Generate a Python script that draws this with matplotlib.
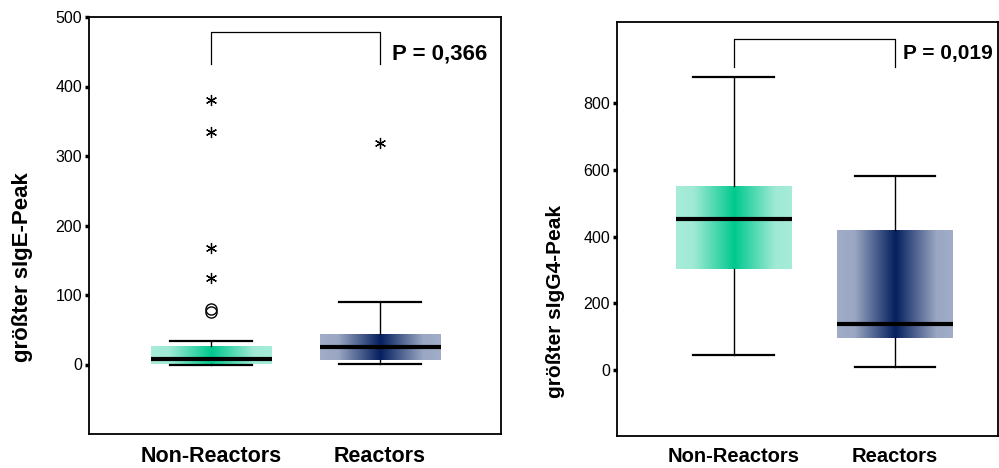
import numpy as np
import matplotlib.pyplot as plt
from matplotlib.colors import LinearSegmentedColormap

plt.rcParams['font.family'] = ['Liberation Sans', 'DejaVu Sans']

groups = ['Non-Reactors', 'Reactors']

# sIgE panel (left)
ige_q1 = [0.5, 6]
ige_med = [8, 24.5]
ige_q3 = [27, 44]
ige_whislo = [0, 0.5]
ige_whishi = [34.5, 90]
ige_circles = [[80, 75], []]
ige_stars = [[381, 335, 167, 124], [318]]
ige_p = 'P = 0,366'

# sIgG4 panel (right)
igg4_q1 = [304, 97]
igg4_med = [454, 137]
igg4_q3 = [552, 420]
igg4_whislo = [46, 9]
igg4_whishi = [878, 583]
igg4_p = 'P = 0,019'

green_cmap = LinearSegmentedColormap.from_list(
    'g', [(0, '#a6ecd9'), (0.15, '#a0ead5'), (0.5, '#00c98f'), (0.85, '#a0ead5'), (1, '#a6ecd9')])
navy_cmap = LinearSegmentedColormap.from_list(
    'n', [(0, '#a2adc8'), (0.15, '#9aa6c2'), (0.5, '#05205f'), (0.85, '#9aa6c2'), (1, '#a2adc8')])


def draw_panel(ax, q1, med, q3, lo, hi, ylabel, ylim, yticks, xlim, width, capw,
               bracket, ptext, ptext_xy, fs, circles=None, stars=None):
    stats = []
    for i in range(2):
        stats.append({'q1': q1[i], 'med': med[i], 'q3': q3[i],
                      'whislo': lo[i], 'whishi': hi[i], 'fliers': []})
    bp = ax.bxp(stats, positions=[1, 2], widths=width, patch_artist=True,
                showfliers=False, capwidths=capw,
                boxprops=dict(facecolor='none', edgecolor='none', linewidth=0),
                medianprops=dict(color='black', linewidth=3, solid_capstyle='butt'),
                whiskerprops=dict(color='black', linewidth=1),
                capprops=dict(color='black', linewidth=1.6))
    grad = np.linspace(0, 1, 256).reshape(1, -1)
    for patch, cmap in zip(bp['boxes'], [green_cmap, navy_cmap]):
        verts = patch.get_path().vertices
        x0, x1 = verts[:, 0].min(), verts[:, 0].max()
        y0, y1 = verts[:, 1].min(), verts[:, 1].max()
        im = ax.imshow(grad, cmap=cmap, extent=[x0, x1, y0, y1], aspect='auto',
                       zorder=1.5, interpolation='bilinear')
        im.set_clip_path(patch)
    for m in bp['medians']:
        m.set_zorder(3)

    if circles is not None:
        for i, vals in enumerate(circles):
            if vals:
                ax.plot([i + 1] * len(vals), vals, linestyle='none', marker='o',
                        markersize=8, markerfacecolor='none', markeredgecolor='black',
                        markeredgewidth=1)
    if stars is not None:
        for i, vals in enumerate(stars):
            if vals:
                ax.plot([i + 1] * len(vals), vals, linestyle='none', marker=(6, 2, 0),
                        markersize=8, markeredgecolor='black', markeredgewidth=0.9)

    # significance bracket
    yb_lo, yb_hi = bracket
    ax.plot([1, 1, 2, 2], [yb_lo, yb_hi, yb_hi, yb_lo], color='black', linewidth=0.9)
    ax.text(ptext_xy[0], ptext_xy[1], ptext, fontsize=fs['p'], fontweight='bold',
            ha='left', va='center')

    ax.set_xlim(*xlim)
    ax.set_ylim(*ylim)
    ax.set_yticks(yticks)
    ax.set_xticks([1, 2])
    ax.set_xticklabels(groups, fontsize=fs['x'], fontweight='bold')
    ax.tick_params(axis='x', length=0, pad=fs['pad'])
    ax.tick_params(axis='y', length=3, width=2.5, labelsize=11.5, pad=2)
    ax.set_ylabel(ylabel, fontsize=fs['y'], fontweight='bold')
    for s in ax.spines.values():
        s.set_linewidth(1.3)


fig = plt.figure(figsize=(9.99, 4.68), dpi=100)
ax1 = fig.add_axes([89 / 999, 1 - 434 / 468, (501 - 89) / 999, (434 - 17) / 468])
ax2 = fig.add_axes([617 / 999, 1 - 436 / 468, (998 - 617) / 999, (436 - 22) / 468])

draw_panel(ax1, ige_q1, ige_med, ige_q3, ige_whislo, ige_whishi,
           'größter sIgE-Peak', (-100, 500), [0, 100, 200, 300, 400, 500],
           (0.278, 2.716), 0.716, 0.49, (432, 478), ige_p, (2.07, 447),
           {'p': 16, 'x': 15.5, 'y': 16, 'pad': 9},
           circles=ige_circles, stars=ige_stars)
ax1.yaxis.set_label_coords(-0.136, 0.40)

draw_panel(ax2, igg4_q1, igg4_med, igg4_q3, igg4_whislo, igg4_whishi,
           'größter sIgG4-Peak', (-197, 1043), [0, 200, 400, 600, 800],
           (0.276, 2.64), 0.72, 0.5, (909, 991), igg4_p, (2.05, 950),
           {'p': 15, 'x': 14.5, 'y': 15, 'pad': 8})
ax2.yaxis.set_label_coords(-0.136, 0.324)

fig.savefig('out.png', dpi=100)
